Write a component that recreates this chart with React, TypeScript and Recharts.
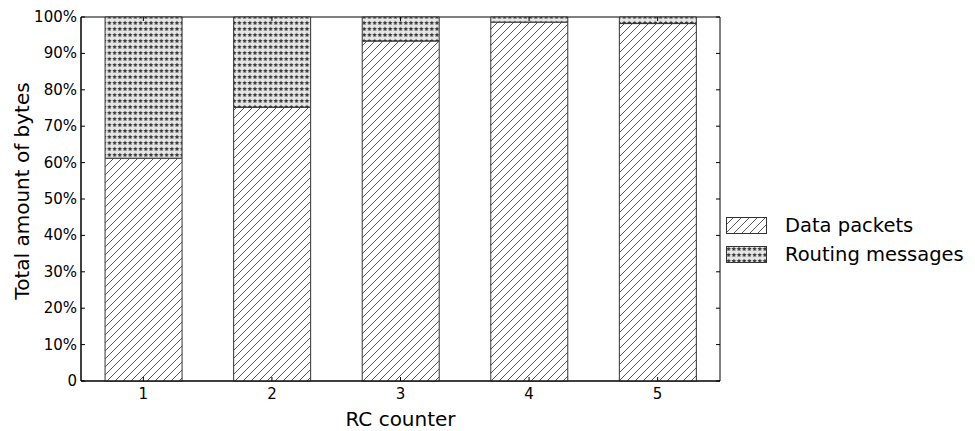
import React from "react";
import { BarChart, Bar, XAxis, YAxis, ReferenceArea } from "recharts";

const counters = [1, 2, 3, 4, 5];
const dataPackets = [61.2, 75.2, 93.4, 98.6, 98.2];
const routingMessages = [38.8, 24.8, 6.6, 1.4, 1.8];
const yTicks = [0, 10, 20, 30, 40, 50, 60, 70, 80, 90, 100];

const FONT = "'DejaVu Sans', sans-serif";
const EDGE = "#333";
// recharts puts the tick text 8px off the axis line (tickSize 6 + tickMargin 2)
const TICK_GAP = 8;

const dados = counters.map((c, i) => ({
  rc: c,
  data: dataPackets[i],
  routing: routingMessages[i],
}));

function Patterns({ prefix }: { prefix: string }) {
  return (
    <defs>
      <pattern id={`${prefix}-hatch`} patternUnits="userSpaceOnUse" width="8" height="8">
        <rect width="8" height="8" fill="#fff" />
        <path d="M-2,2 L2,-2 M0,8 L8,0 M6,10 L10,6" stroke="#444" strokeWidth="0.9" />
      </pattern>
      <pattern id={`${prefix}-stars`} patternUnits="userSpaceOnUse" width="5.2" height="6">
        <rect width="5.2" height="6" fill="#e6e6e6" />
        <path
          d="M2.6,0.6 L3.3,2.1 L4.9,2.3 L3.7,3.4 L4.0,5.0 L2.6,4.2 L1.2,5.0 L1.5,3.4 L0.3,2.3 L1.9,2.1 Z"
          fill="#3a3a3a"
        />
      </pattern>
    </defs>
  );
}

function YTick(props: any) {
  const { x, y, payload } = props;
  const ax = x + TICK_GAP;
  return (
    <g>
      <line x1={ax} x2={ax + 4} y1={y} y2={y} stroke="#000" />
      <line x1={ax + 639} x2={ax + 635} y1={y} y2={y} stroke="#000" />
      <text x={ax - 4} y={y} textAnchor="end" dominantBaseline="central" fontSize={15} fontFamily={FONT} fill="#000">
        {payload.value === 0 ? "0" : `${payload.value}%`}
      </text>
    </g>
  );
}

function XTick(props: any) {
  const { x, y, payload } = props;
  const ay = y - TICK_GAP;
  return (
    <g>
      <line x1={x} x2={x} y1={ay} y2={ay - 4} stroke="#000" />
      <line x1={x} x2={x} y1={ay - 364} y2={ay - 360} stroke="#000" />
      <text x={x} y={ay + 18} textAnchor="middle" fontSize={15} fontFamily={FONT} fill="#000">
        {payload.value}
      </text>
    </g>
  );
}

function YLabel(props: any) {
  const { viewBox } = props;
  const cx = 14;
  const cy = viewBox.y + viewBox.height / 2 - 8;
  return (
    <text x={cx} y={cy} transform={`rotate(-90, ${cx}, ${cy})`} textAnchor="middle" dominantBaseline="central" fontSize={20} fontFamily={FONT} fill="#000">
      Total amount of bytes
    </text>
  );
}

function XLabel(props: any) {
  const { viewBox } = props;
  return (
    <text x={viewBox.x + viewBox.width / 2} y={418} textAnchor="middle" fontSize={20} fontFamily={FONT} fill="#000">
      RC counter
    </text>
  );
}

export default function App() {
  return (
    <div style={{ position: "relative", width: 967, height: 423 }}>
      <BarChart
        width={967}
        height={423}
        data={dados}
        margin={{ top: 9, right: 255, bottom: 0, left: 0 }}
      >
        <Patterns prefix="c" />
        <XAxis
          dataKey="rc"
          type="number"
          domain={[0.515, 5.485]}
          ticks={counters}
          allowDataOverflow
          height={50}
          stroke="#000"
          tickLine={false}
          tick={<XTick />}
          label={<XLabel />}
        />
        <YAxis
          type="number"
          domain={[0, 100]}
          ticks={yTicks}
          width={73}
          stroke="#000"
          tickLine={false}
          tick={<YTick />}
          label={<YLabel />}
        />
        <Bar dataKey="data" stackId="a" barSize={77} fill="url(#c-hatch)" stroke={EDGE} strokeWidth={1} isAnimationActive={false} />
        <Bar dataKey="routing" stackId="a" barSize={77} fill="url(#c-stars)" stroke={EDGE} strokeWidth={1} isAnimationActive={false} />
        <ReferenceArea x1={0.515} x2={5.485} y1={0} y2={100} fill="none" stroke="#000" strokeWidth={1} ifOverflow="visible" />
      </BarChart>
      <div style={{ position: "absolute", left: 718, top: 203, fontFamily: FONT, fontSize: 19.5 }}>
        {[
          { nome: "Data packets", fill: "url(#l-hatch)" },
          { nome: "Routing messages", fill: "url(#l-stars)" },
        ].map((item) => (
          <div key={item.nome} style={{ display: "flex", alignItems: "center", height: 29 }}>
            <svg width={42} height={18} style={{ marginRight: 17 }}>
              <Patterns prefix="l" />
              <rect x={0.5} y={0.5} width={40} height={16} fill={item.fill} stroke={EDGE} />
            </svg>
            <span>{item.nome}</span>
          </div>
        ))}
      </div>
    </div>
  );
}
